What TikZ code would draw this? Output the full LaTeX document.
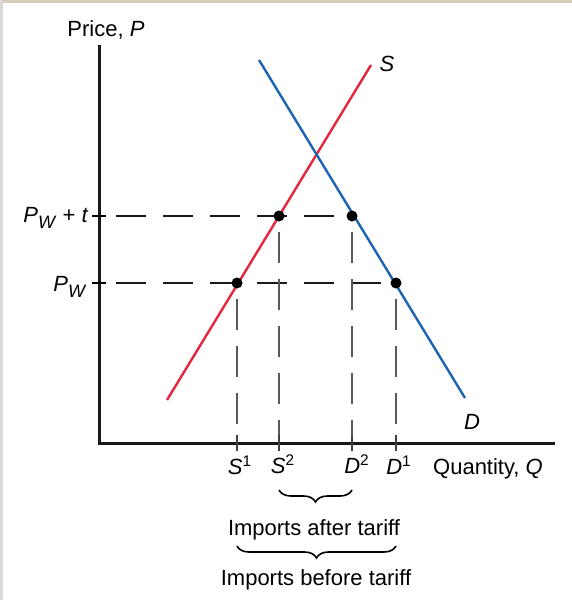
\documentclass[tikz,border=0pt]{standalone}
\usepackage{fontspec}
\setmainfont{Liberation Sans}
\usetikzlibrary{decorations.pathreplacing}
\definecolor{supplyred}{RGB}{228,38,62}
\definecolor{demandblue}{RGB}{30,100,178}
\definecolor{frametan}{RGB}{214,204,188}
\newcommand{\subW}{\raisebox{-0.45ex}{\fontsize{9}{10}\selectfont\textit{W}}}
\tikzset{
    lbl/.style={font=\fontsize{11}{13}\selectfont, inner sep=1pt},
    axisline/.style={line width=1.5pt, black!90},
    pricedash/.style={line width=1.3pt, black!90, dash pattern=on 15pt off 8.5pt, dash phase=15pt},
    qtydash/.style={line width=0.75pt, black!65, dash pattern=on 15.5pt off 8pt, dash phase=15.5pt},
    eqdot/.style={circle, fill=black, inner sep=0pt, minimum size=5.5pt},
    importbrace/.style={decorate, decoration={brace, mirror, amplitude=6pt}, line width=0.8pt}
}
\begin{document}
\begin{tikzpicture}[x=0.5pt, y=-0.5pt]
    \useasboundingbox (0,0) rectangle (572,600);
    \fill[white] (0,0) rectangle (572,600);
    \fill[frametan] (0,0) rectangle (572,2.5);
    \fill[black!15] (0,0) rectangle (2.5,600);

    % Axes
    \coordinate (O) at (99,443);
    \coordinate (ytop) at (99,45);
    \coordinate (xend) at (555,443);
    \draw[axisline] (ytop) -- (O) -- (xend);
    \node[lbl] (pricelbl) at (106,30) {Price, \textit{P}};
    \node[lbl] (qtylbl) at (488,469) {Quantity, \textit{Q}};

    % Price levels
    \coordinate (pwt) at (99,216);
    \coordinate (pw) at (99,283);
    \coordinate (s2) at (279,216);
    \coordinate (d2) at (352,216);
    \coordinate (s1) at (237,283);
    \coordinate (d1) at (396,283);
    \foreach \p in {pwt,pw} {
        \draw[line width=1.3pt] ([xshift=-3.5pt]\p) -- ([xshift=3.5pt]\p);
    }
    \draw[pricedash] (pwt) -- (d2);
    \draw[pricedash] (pw) -- (d1);
    \node[lbl] (pwtlbl) at (56,218) {\textit{P}\subW{} + \textit{t}};
    \node[lbl] (pwlbl) at (70,287) {\textit{P}\subW};

    % Quantities
    \foreach \p in {s1,s2,d2,d1} {
        \coordinate (\p foot) at (\p |- O);
        \draw[qtydash] (\p) -- (\p foot);
        \draw[line width=0.75pt, black!75] ([yshift=4pt]\p foot) -- ([yshift=-4pt]\p foot);
    }
    \node[lbl] (s1lbl) at (240,465) {\textit{S}\textsuperscript{1}};
    \node[lbl] (s2lbl) at (283,464) {\textit{S}\textsuperscript{2}};
    \node[lbl] (d2lbl) at (357,464) {\textit{D}\textsuperscript{2}};
    \node[lbl] (d1lbl) at (399,465) {\textit{D}\textsuperscript{1}};

    % Supply and demand
    \coordinate (sbot) at (167,400);
    \coordinate (stop) at (371,65);
    \coordinate (dtop) at (259,60);
    \coordinate (dbot) at (465,398);
    \draw[supplyred, line width=1.2pt] (sbot) -- (stop);
    \draw[demandblue, line width=1.2pt] (dtop) -- (dbot);
    \node[lbl] (slbl) at (387,64) {\textit{S}};
    \node[lbl] (dlbl) at (472,422) {\textit{D}};
    \foreach \p in {s1,s2,d2,d1} {
        \node[eqdot] at (\p) {};
    }

    % Imports
    \draw[importbrace] (s2foot) ++(0,47) -- ++(73,0);
    \node[lbl] (aftertxt) at (314,530) {Imports after tariff};
    \draw[importbrace] (s1foot) ++(0,103) -- ++(159,0);
    \node[lbl] (beforetxt) at (316,580) {Imports before tariff};
\end{tikzpicture}
\end{document}
